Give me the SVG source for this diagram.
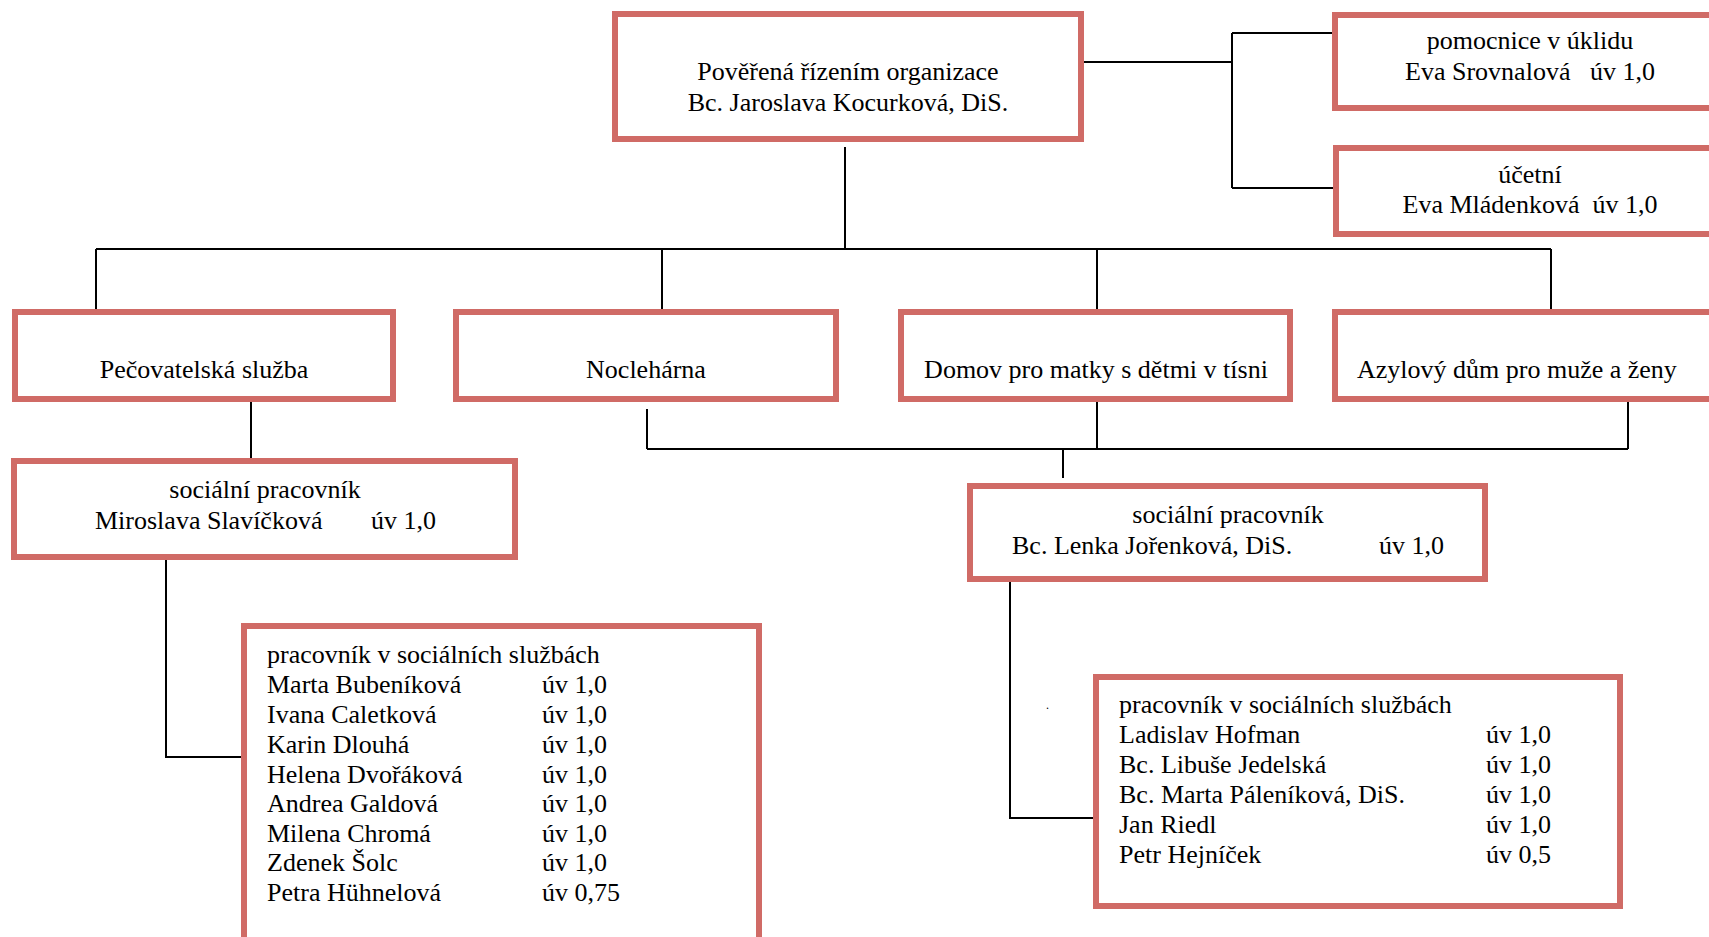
<svg xmlns="http://www.w3.org/2000/svg" width="1709" height="937" viewBox="0 0 1709 937">
<style>
.box{fill:#ffffff;stroke:#d06b66;stroke-width:6}
.t{font-family:"Liberation Serif","Times New Roman",serif;font-size:26px;fill:#000}
.c{text-anchor:middle}
.ln{fill:none;stroke:#000;stroke-width:2}
</style>
<rect width="1709" height="937" fill="#ffffff"/>
<g id="connectors">
<path class="ln" d="M1084 62H1232M1232 33V188M1232 33H1334M1232 188H1334"/>
<path class="ln" d="M845 147V249M96 249H1551M96 249V310M662 249V310M1097 249V310M1551 249V310"/>
<path class="ln" d="M251 400V460"/>
<path class="ln" d="M166 558V757H244"/>
<path class="ln" d="M647 409V449M1097 401V449M1628 401V449M647 449H1628M1063 449V478"/>
<path class="ln" d="M1010 580V818H1094"/>
</g>
<g id="n-top">
<rect class="box" x="615" y="14" width="466" height="125"/>
<text class="t c" x="848" y="80">Pověřená řízením organizace</text>
<text class="t c" x="848" y="111">Bc. Jaroslava Kocurková, DiS.</text>
</g>
<g id="n-uklid">
<rect class="box" x="1335" y="15" width="400" height="93"/>
<text class="t c" x="1530" y="49">pomocnice v úklidu</text>
<text class="t c" x="1530" y="80" xml:space="preserve">Eva Srovnalová   úv 1,0</text>
</g>
<g id="n-ucetni">
<rect class="box" x="1336" y="148" width="400" height="86"/>
<text class="t c" x="1530" y="183">účetní</text>
<text class="t c" x="1530" y="213" xml:space="preserve">Eva Mládenková  úv 1,0</text>
</g>
<g id="n-pecovatelska">
<rect class="box" x="15" y="312" width="378" height="87"/>
<text class="t c" x="204" y="378">Pečovatelská služba</text>
</g>
<g id="n-nocleharna">
<rect class="box" x="456" y="312" width="380" height="87"/>
<text class="t c" x="646" y="378">Noclehárna</text>
</g>
<g id="n-domov">
<rect class="box" x="901" y="312" width="389" height="87"/>
<text class="t c" x="1096" y="378">Domov pro matky s dětmi v tísni</text>
</g>
<g id="n-azyl">
<rect class="box" x="1335" y="312" width="400" height="87"/>
<text class="t" x="1357" y="378">Azylový dům pro muže a ženy</text>
</g>
<g id="n-sp-left">
<rect class="box" x="14" y="461" width="501" height="96"/>
<text class="t c" x="265" y="498">sociální pracovník</text>
<text class="t" x="95" y="529">Miroslava Slavíčková</text>
<text class="t" x="371" y="529">úv 1,0</text>
</g>
<g id="n-sp-right">
<rect class="box" x="970" y="486" width="515" height="93"/>
<text class="t c" x="1228" y="523">sociální pracovník</text>
<text class="t" x="1012" y="554">Bc. Lenka Jořenková, DiS.</text>
<text class="t" x="1379" y="554">úv 1,0</text>
</g>
<g id="n-psp-left">
<rect class="box" x="244" y="626" width="515" height="330"/>
<g class="t">
<text x="267" y="663">pracovník v sociálních službách</text>
<text x="267" y="693">Marta Bubeníková</text><text x="542" y="693">úv 1,0</text>
<text x="267" y="723">Ivana Caletková</text><text x="542" y="723">úv 1,0</text>
<text x="267" y="753">Karin Dlouhá</text><text x="542" y="753">úv 1,0</text>
<text x="267" y="783">Helena Dvořáková</text><text x="542" y="783">úv 1,0</text>
<text x="267" y="812">Andrea Galdová</text><text x="542" y="812">úv 1,0</text>
<text x="267" y="842">Milena Chromá</text><text x="542" y="842">úv 1,0</text>
<text x="267" y="871">Zdenek Šolc</text><text x="542" y="871">úv 1,0</text>
<text x="267" y="901">Petra Hühnelová</text><text x="542" y="901">úv 0,75</text>
</g>
</g>
<g id="n-psp-right">
<rect class="box" x="1096" y="677" width="524" height="229"/>
<g class="t">
<text x="1119" y="713">pracovník v sociálních službách</text>
<text x="1119" y="743">Ladislav Hofman</text><text x="1486" y="743">úv 1,0</text>
<text x="1119" y="773">Bc. Libuše Jedelská</text><text x="1486" y="773">úv 1,0</text>
<text x="1119" y="803">Bc. Marta Páleníková, DiS.</text><text x="1486" y="803">úv 1,0</text>
<text x="1119" y="833">Jan Riedl</text><text x="1486" y="833">úv 1,0</text>
<text x="1119" y="863">Petr Hejníček</text><text x="1486" y="863">úv 0,5</text>
</g>
</g>
<text class="t" x="1046" y="709" style="font-size:12px">.</text>
</svg>
